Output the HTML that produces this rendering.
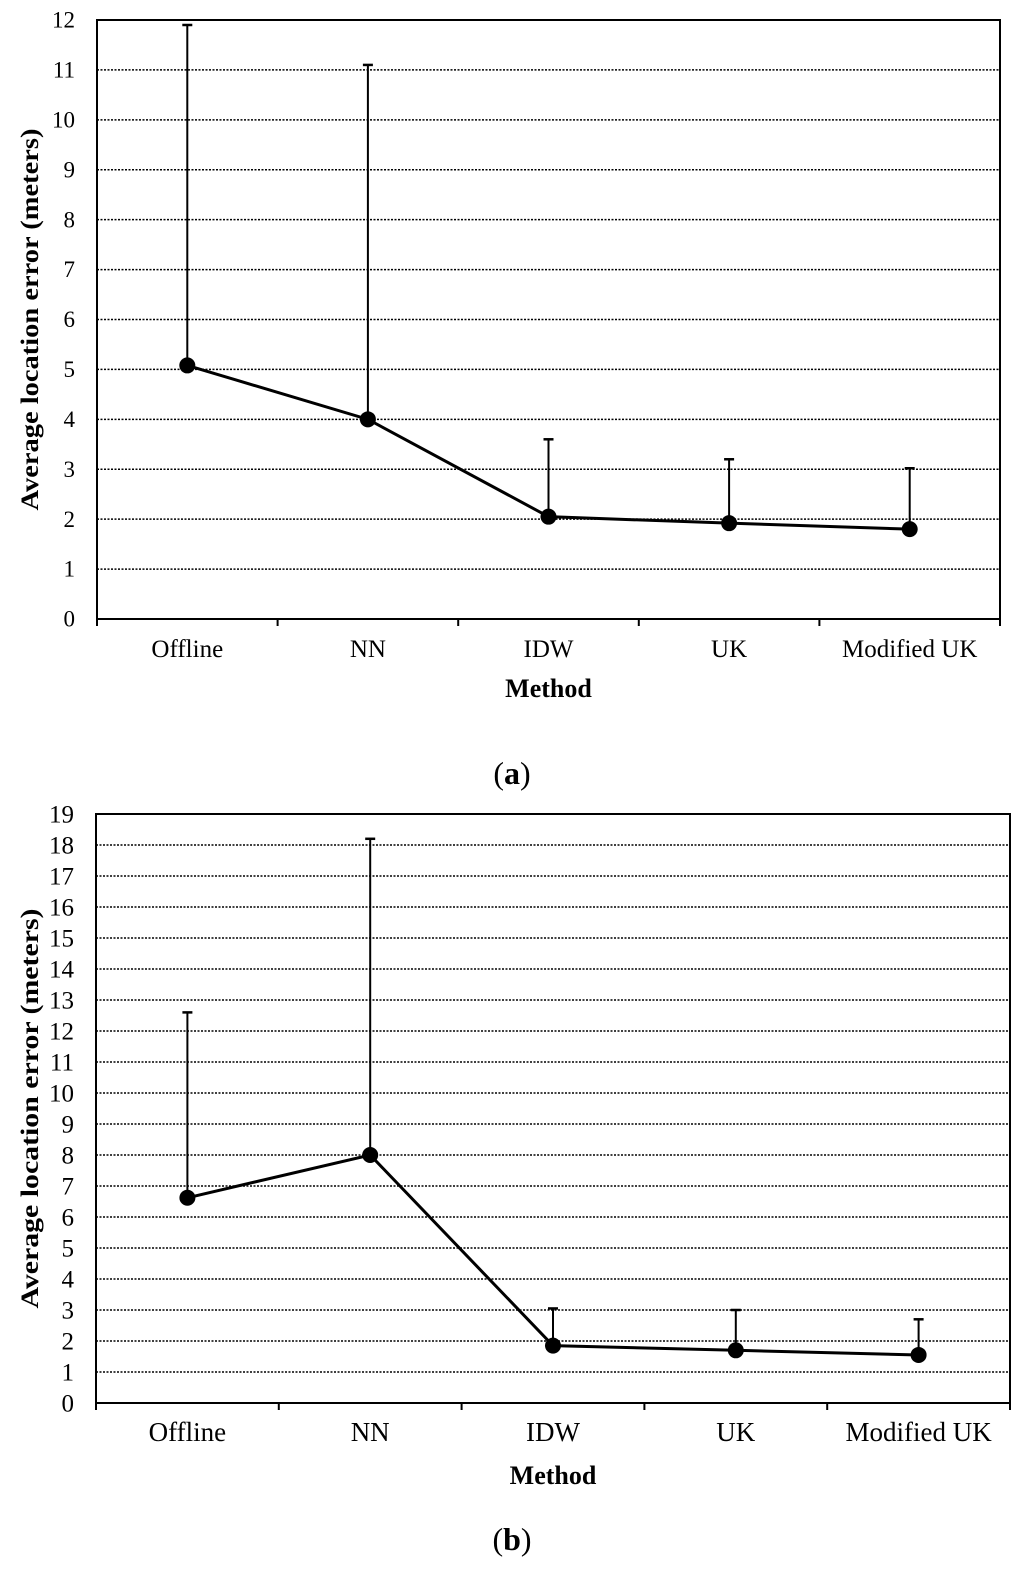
<!DOCTYPE html>
<html><head><meta charset="utf-8"><style>
html,body{margin:0;padding:0;background:#fff;}
svg{display:block;font-family:"Liberation Serif",serif;}
</style></head><body>
<svg id="svg" width="1024" height="1571" viewBox="0 0 1024 1571"></svg>
<script>
const categories = ["Offline","NN","IDW","UK","Modified UK"];
const meansA = [5.08, 4.0, 2.05, 1.92, 1.8];
const errTopA = [11.9, 11.1, 3.6, 3.2, 3.02];
const meansB = [6.62, 8.0, 1.85, 1.7, 1.55];
const errTopB = [12.6, 18.2, 3.05, 3.0, 2.7];
const ticksA = [0,1,2,3,4,5,6,7,8,9,10,11,12];
const ticksB = [0,1,2,3,4,5,6,7,8,9,10,11,12,13,14,15,16,17,18,19];

const NS = "http://www.w3.org/2000/svg";
const svg = document.getElementById('svg');
function mk(tag, attrs, parent){
  const e = document.createElementNS(NS, tag);
  for (const k in attrs) e.setAttribute(k, attrs[k]);
  (parent||svg).appendChild(e);
  return e;
}
function chart(id, L, R, T, B, ymax, ticks, means, tops, panelLabel, methodY, panelY, tfs, xfs, titleLen){
  const g = mk('g', {});
  
  
  const y = v => B - (B - T) * v / ymax;
  const bw = (R - L) / categories.length;
  const x = i => L + bw * (i + 0.5);
  ticks.forEach(t => {
    if (t > 0 && t < ymax) {
      const gl = mk('line', {x1:L, x2:R, y1:y(t), y2:y(t), stroke:'#000', 'stroke-width':1.5, 'stroke-dasharray':'2,1.5'}, g);
      
      
    }
    const tl = mk('text', {x:L-22, y:y(t)+tfs*0.33, 'text-anchor':'end', 'font-size':tfs}, g);
    
    
    tl.textContent = t;
  });
  const frame = mk('rect', {x:L, y:T, width:R-L, height:B-T, fill:'none', stroke:'#000', 'stroke-width':2}, g);
  
  
  for (let i = 0; i <= categories.length; i++) {
    const tk = mk('line', {x1:L+bw*i, x2:L+bw*i, y1:B, y2:B+7, stroke:'#000', 'stroke-width':2}, g);
    
    
  }
  categories.forEach((c, i) => {
    const t = mk('text', {x:x(i), y:B+38, 'text-anchor':'middle', 'font-size':xfs}, g);
    
    
    t.textContent = c;
    const eb = mk('line', {x1:x(i), x2:x(i), y1:y(means[i]), y2:y(tops[i]), stroke:'#000', 'stroke-width':2}, g);
    
    
    const cap = mk('line', {x1:x(i)-5, x2:x(i)+5, y1:y(tops[i]), y2:y(tops[i]), stroke:'#000', 'stroke-width':2.5}, g);
    
    
  });
  const pl = mk('polyline', {points: means.map((m,i)=>x(i)+','+y(m)).join(' '), fill:'none', stroke:'#000', 'stroke-width':3}, g);
  
  
  means.forEach((m, i) => {
    const c = mk('circle', {cx:x(i), cy:y(m), r:8, fill:'#000'}, g);
    
    
  });
  const yt = mk('text', {x:0, y:0, 'text-anchor':'middle', 'font-size':25, 'font-weight':'bold', textLength:titleLen, lengthAdjust:'spacingAndGlyphs', transform:'translate(38,'+((T+B)/2)+') rotate(-90)'}, g);
  
  
  yt.textContent = 'Average location error (meters)';
  const xt = mk('text', {x:(L+R)/2, y:methodY, 'text-anchor':'middle', 'font-size':26, 'font-weight':'bold'}, g);
  
  
  xt.textContent = 'Method';
  const pn = mk('text', {x:512, y:panelY, 'text-anchor':'middle', 'font-size':32}, g);
  
  
  pn.innerHTML = '(<tspan font-weight="bold">' + panelLabel + '</tspan>)';
}
chart('a', 97, 1000, 20, 619, 12, ticksA, meansA, errTopA, 'a', 697, 784, 23, 25, 382);
chart('b', 96, 1010, 814, 1403, 19, ticksB, meansB, errTopB, 'b', 1484, 1550, 25, 27, 400);
</script>
</body></html>
